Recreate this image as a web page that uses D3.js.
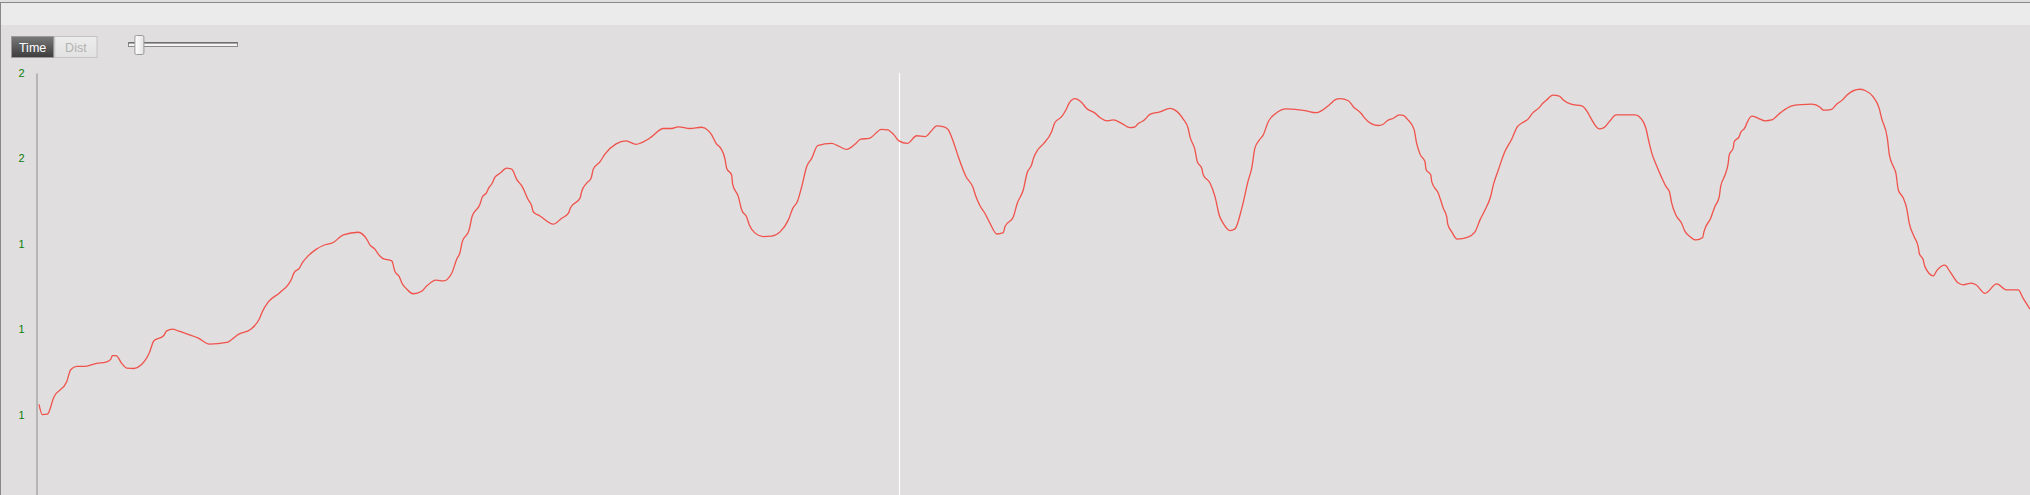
<!DOCTYPE html>
<html>
<head>
<meta charset="utf-8">
<script src="https://cdn.jsdelivr.net/npm/d3@7/dist/d3.min.js"></script>
<style>
  html, body { margin: 0; padding: 0; overflow: hidden; background: #e0dfdf; }
  svg { display: block; }
</style>
</head>
<body>
<svg id="chart" width="2030" height="495"></svg>
<script>
// ---- data ----
const times = [0.5,2.2,4.7,8.0,14.4,16.4,19.4,23.6,29.5,34.1,36.6,37.3,39.2,42.0,44.5,48.2,51.7,55.9,58.2,62.9,64.6,67.6,70.4,74.6,80.5,86.0,94.7,100.6,106.8,111.1,112.6,115.6,121.5,127.4,128.5,131.2,132.9,135.7,139.6,143.2,148.2,153.3,160.8,165.0,166.7,169.2,170.8,173.0,177.6,179.2,181.4,182.6,185.1,188.4,192.6,195.1,199.8,203.5,207.7,210.2,211.8,213.0,216.4,218.0,221.9,223.0,225.2,226.4,227.8,229.4,231.9,235.3,237.8,240.3,243.1,246.1,247.8,248.6,252.0,258.7,262.9,266.2,267.4,272.1,272.9,275.4,277.6,278.8,282.1,284.6,290.2,295.2,300.2,305.6,308.1,313.9,318.1,321.4,327.3,333.2,336.5,338.2,340.4,342.7,344.9,345.7,348.2,348.7,351.6,353.3,355.8,357.1,360.0,364.1,368.3,372.5,376.7,378.9,381.2,383.4,385.9,388.4,391.4,398.4,401.8,406.0,410.1,413.0,417.3,423.5,426.5,429.7,432.2,436.4,441.1,445.3,448.6,451.1,454.8,457.0,459.5,462.0,465.9,469.2,470.9,472.9,475.4,477.9,481.3,484.6,485.4,489.6,491.6,494.6,496.6,498.8,499.7,502.2,504.7,508.9,510.5,513.9,516.4,517.7,520.6,523.9,526.4,530.6,533.1,536.8,539.8,544.0,548.2,550.7,552.4,554.9,558.2,563.2,568.3,570.8,574.9,577.4,578.3,580.8,582.0,584.2,585.0,588.3,590.9,593.0,595.0,598.4,600.9,604.3,607.6,609.3,610.9,613.1,615.1,617.6,621.0,626.8,631.0,636.0,641.6,648.6,651.1,653.6,657.8,660.3,664.5,665.7,669.5,672.8,675.3,677.3,680.4,683.4,685.7,687.4,690.8,692.1,693.8,696.3,696.8,699.2,699.7,703.0,705.5,707.2,707.7,709.7,712.5,717.5,721.4,723.9,726.4,729.3,730.6,733.1,736.4,739.8,742.6,745.3,748.0,750.3,753.6,755.4,757.4,760.4,763.7,765.7,769.6,775.0,777.8,779.1,783.8,786.1,788.8,792.2,801.7,805.6,807.2,808.7,810.1,812.6,815.1,817.3,819.0,820.1,822.3,825.1,826.8,829.3,832.3,835.7,836.3,839.7,841.8,844.0,844.7,846.9,848.5,849.0,851.0,851.5,854.0,854.7,856.9,857.8,860.3,863.6,867.0,870.3,874.5,880.4,885.4,890.5,894.6,896.3,900.4,902.9,905.9,908.0,914.6,917.2,921.3,924.3,925.5,928.4,929.4,931.4,932.7,933.9,936.4,938.1,939.4,941.8,943.9,944.4,946.4,947.3,951.5,953.2,957.3,959.8,964.0,966.5,970.7,972.9,977.4,983.3,988.3,994.1,996.6,1000.0];
const values = [1.024,1.000,1.001,1.041,1.077,1.105,1.113,1.113,1.120,1.123,1.130,1.138,1.138,1.120,1.109,1.108,1.116,1.145,1.173,1.184,1.196,1.200,1.196,1.189,1.179,1.165,1.169,1.188,1.200,1.224,1.241,1.264,1.286,1.319,1.332,1.343,1.357,1.372,1.387,1.396,1.403,1.421,1.427,1.411,1.397,1.387,1.376,1.366,1.360,1.335,1.323,1.309,1.294,1.283,1.289,1.301,1.315,1.313,1.331,1.364,1.379,1.405,1.432,1.465,1.493,1.509,1.520,1.532,1.540,1.556,1.565,1.577,1.575,1.551,1.534,1.503,1.489,1.475,1.465,1.446,1.460,1.471,1.485,1.507,1.522,1.542,1.553,1.575,1.592,1.610,1.634,1.641,1.633,1.643,1.651,1.670,1.670,1.674,1.670,1.673,1.665,1.655,1.635,1.624,1.598,1.577,1.561,1.540,1.510,1.479,1.462,1.444,1.425,1.417,1.418,1.428,1.456,1.483,1.499,1.534,1.581,1.600,1.630,1.635,1.629,1.621,1.633,1.645,1.647,1.668,1.667,1.655,1.641,1.635,1.653,1.651,1.665,1.676,1.674,1.667,1.639,1.604,1.557,1.534,1.510,1.489,1.471,1.448,1.423,1.426,1.440,1.463,1.495,1.526,1.567,1.585,1.600,1.622,1.634,1.663,1.684,1.698,1.717,1.730,1.740,1.731,1.717,1.706,1.696,1.688,1.690,1.682,1.672,1.674,1.682,1.688,1.703,1.709,1.717,1.713,1.692,1.670,1.651,1.620,1.592,1.577,1.561,1.543,1.510,1.467,1.448,1.431,1.435,1.483,1.549,1.577,1.624,1.643,1.655,1.686,1.704,1.716,1.715,1.712,1.707,1.727,1.737,1.740,1.735,1.721,1.704,1.696,1.681,1.677,1.680,1.688,1.694,1.702,1.700,1.692,1.668,1.635,1.610,1.592,1.574,1.561,1.545,1.518,1.483,1.463,1.446,1.428,1.411,1.415,1.428,1.456,1.479,1.512,1.538,1.573,1.616,1.645,1.674,1.684,1.692,1.706,1.719,1.729,1.737,1.748,1.746,1.737,1.727,1.723,1.709,1.698,1.669,1.672,1.686,1.702,1.702,1.688,1.670,1.639,1.613,1.582,1.555,1.534,1.522,1.496,1.467,1.448,1.429,1.417,1.409,1.415,1.428,1.460,1.487,1.510,1.534,1.561,1.589,1.608,1.624,1.639,1.651,1.660,1.672,1.682,1.699,1.694,1.688,1.690,1.706,1.723,1.726,1.727,1.720,1.713,1.715,1.727,1.737,1.748,1.762,1.759,1.744,1.717,1.694,1.647,1.608,1.581,1.565,1.526,1.507,1.483,1.448,1.417,1.393,1.378,1.362,1.346,1.325,1.337,1.350,1.335,1.308,1.304,1.308,1.304,1.284,1.306,1.292,1.292,1.272,1.247];
const yTicks = [1.0, 1.2, 1.4, 1.6, 1.8];
const cursorTime = 432.2;
const modeLabels = ["Time", "Dist"];
const activeMode = "Time";
const sliderValue = 0.1;

// ---- layout ----
const W = 2030, H = 495;
const svg = d3.select("#chart");
const x = d3.scaleLinear().domain([0, 1000]).range([38, 2030]);
const y = d3.scaleLinear().domain([0.8, 1.8]).range([500, 73]);

const defs = svg.append("defs");
const gDark = defs.append("linearGradient").attr("id", "gDark").attr("x1", 0).attr("y1", 0).attr("x2", 0).attr("y2", 1);
gDark.append("stop").attr("offset", "0%").attr("stop-color", "#7a7a7a");
gDark.append("stop").attr("offset", "100%").attr("stop-color", "#3c3c3c");
const gLight = defs.append("linearGradient").attr("id", "gLight").attr("x1", 0).attr("y1", 0).attr("x2", 0).attr("y2", 1);
gLight.append("stop").attr("offset", "0%").attr("stop-color", "#ececec");
gLight.append("stop").attr("offset", "100%").attr("stop-color", "#e2e2e2");
const gThumb = defs.append("linearGradient").attr("id", "gThumb").attr("x1", 0).attr("y1", 0).attr("x2", 1).attr("y2", 0);
gThumb.append("stop").attr("offset", "0%").attr("stop-color", "#ffffff");
gThumb.append("stop").attr("offset", "100%").attr("stop-color", "#e4e4e4");

// background
svg.append("rect").attr("x", 0).attr("y", 0).attr("width", W).attr("height", H).attr("fill", "#e0dede");
svg.append("rect").attr("x", 0).attr("y", 2).attr("width", W).attr("height", 23).attr("fill", "#ebebeb");
svg.append("line").attr("x1", 0).attr("x2", W).attr("y1", 2.5).attr("y2", 2.5).attr("stroke", "#888").attr("stroke-width", 1);
svg.append("line").attr("x1", 0.5).attr("x2", 0.5).attr("y1", 2).attr("y2", H).attr("stroke", "#888").attr("stroke-width", 1);

// mode buttons
const btnX = d3.scaleBand().domain(modeLabels).range([11, 97.5]);
const btn = svg.append("g").selectAll("g").data(modeLabels).join("g");
btn.append("rect")
  .attr("x", d => btnX(d) + 0.5).attr("y", 36.5)
  .attr("width", btnX.bandwidth() - 1).attr("height", 21)
  .attr("fill", d => d === activeMode ? "url(#gDark)" : "url(#gLight)")
  .attr("stroke", d => d === activeMode ? "#9a9a9a" : "#c4c4c4").attr("stroke-width", 1);
btn.append("text")
  .attr("x", d => btnX(d) + btnX.bandwidth() / 2).attr("y", 51.5)
  .attr("text-anchor", "middle")
  .attr("font-family", "'Liberation Sans', Arial, sans-serif")
  .attr("font-size", 12.5)
  .attr("fill", d => d === activeMode ? "#ffffff" : "#b2b2b2")
  .text(d => d);

// slider
const sx = d3.scaleLinear().domain([0, 1]).range([128.5, 237.5]);
svg.append("rect").attr("x", sx(0)).attr("y", 42.5).attr("width", sx(1) - sx(0)).attr("height", 4)
  .attr("fill", "#f4f4f4").attr("stroke", "#8a8a8a").attr("stroke-width", 1);
svg.append("line").attr("x1", sx(0)).attr("x2", sx(1)).attr("y1", 43).attr("y2", 43).attr("stroke", "#555").attr("stroke-width", 1);
svg.append("rect").attr("x", sx(sliderValue) - 4.5).attr("y", 35.5).attr("width", 9).attr("height", 19)
  .attr("rx", 1.5).attr("fill", "url(#gThumb)").attr("stroke", "#9a9a9a").attr("stroke-width", 1);

// cursor line
svg.append("line")
  .attr("x1", Math.round(x(cursorTime)) + 0.5).attr("x2", Math.round(x(cursorTime)) + 0.5)
  .attr("y1", y(1.8)).attr("y2", H)
  .attr("stroke", "#ffffff").attr("stroke-width", 1.2);

// y axis
const axis = svg.append("g").attr("transform", "translate(36.5,0)")
  .call(d3.axisLeft(y).tickValues(yTicks).tickFormat(d3.format(".0f")).tickSize(0).tickPadding(12));
axis.select(".domain").attr("stroke", "#8c8c8c").attr("stroke-width", 1);
axis.selectAll("text").attr("fill", "#0a7f0a").attr("font-size", 11)
  .attr("font-family", "'Liberation Sans', Arial, sans-serif");

// line
const data = times.map((t, i) => ({ t, v: values[i] }));
svg.append("path").datum(data)
  .attr("fill", "none").attr("stroke", "#f0524c").attr("stroke-width", 1.3)
  .attr("stroke-linejoin", "round")
  .attr("d", d3.line().curve(d3.curveMonotoneX).x(d => x(d.t)).y(d => y(d.v)));
</script>
</body>
</html>
